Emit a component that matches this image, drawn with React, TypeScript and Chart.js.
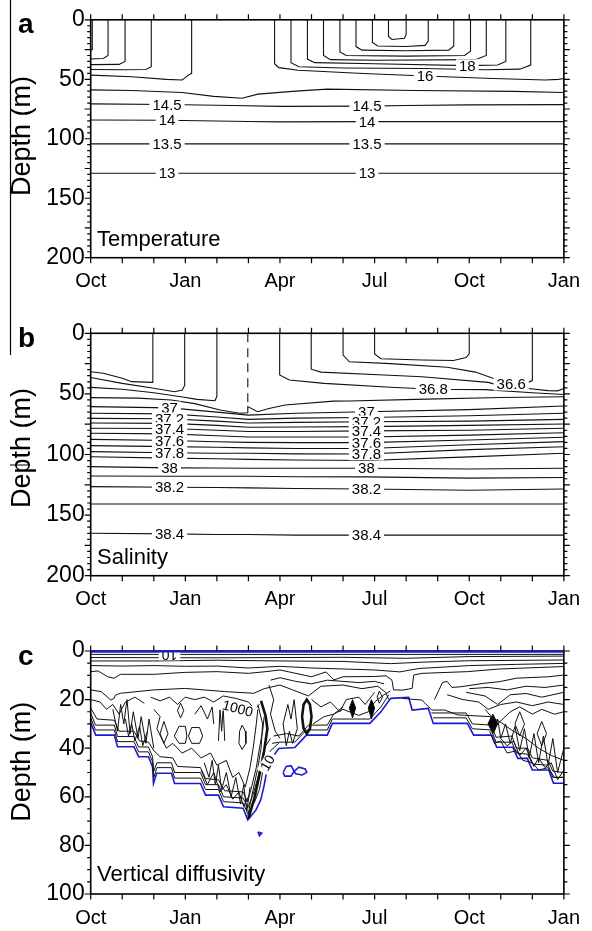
import { useEffect, useRef } from 'react';
import { Chart, registerables } from 'chart.js';
Chart.register(...registerables);

const FONT = '"Liberation Sans", Arial, Helvetica, sans-serif';
const xTickLabels = ['Oct', 'Jan', 'Apr', 'Jul', 'Oct', 'Jan'];

// ---------------- Panel a: temperature contours (x = months since Oct, y = depth m)
const T_edge = [[0, 25.5], [0.05, 25], [0.05, 0]];
const T_w1 = [[0, 33], [0.4, 32.5], [0.55, 30], [0.55, 0]];
const T_w2 = [[0, 37.7], [0.9, 37.5], [1.09, 35], [1.09, 0]];
const T_w3 = [[0, 41.8], [1.0, 42], [1.75, 41.8], [1.92, 39.5], [1.92, 0]];
const T_16a = [[0, 46.5], [1.3, 47.9], [2.4, 50.1], [2.9, 50.6], [3.1, 46.5], [3.2, 45], [3.2, 0]];
const T_16b = [[5.83, 0], [5.83, 36.9], [5.96, 40.2], [6.58, 42.4], [8.64, 45.1], [10.6, 47.3], [12.76, 49.3], [14.41, 50.6], [14.83, 50.1], [15, 49.3]];
const T_U1 = [[6.35, 0], [6.35, 36], [6.6, 39.5], [8, 40.5], [10.5, 41], [12.5, 42], [13.6, 41.5], [13.95, 38], [13.95, 0]];
const T_U2 = [[6.87, 0], [6.87, 33], [7.1, 36], [9, 37], [11.94, 38.5], [12.9, 38], [13.16, 35], [13.16, 0]];
const T_U3 = [[7.38, 0], [7.38, 30], [7.6, 33.5], [9, 34], [12.2, 33.5], [12.54, 30], [12.54, 0]];
const T_U4 = [[7.9, 0], [7.9, 27], [8.1, 30], [10, 30.5], [11.85, 30], [12.04, 26.5], [12.04, 0]];
const T_U5 = [[8.41, 0], [8.41, 22.5], [8.6, 25.5], [10, 26], [11.35, 25.5], [11.51, 22], [11.51, 0]];
const T_U6 = [[8.93, 0], [8.93, 19], [9.1, 22], [10, 22.5], [10.6, 21.5], [10.7, 18], [10.7, 0]];
const T_U7 = [[9.44, 0], [9.44, 14], [9.55, 16.5], [9.95, 15.5], [10.0, 12], [10.0, 0]];
const T_15 = [[0, 58.9], [1.3, 59.4], [2.9, 61.1], [3.9, 64.4], [4.8, 66], [5.3, 62.5], [6.5, 60], [7.5, 58.3], [10.3, 59.4], [13.4, 60.2], [15, 61.1]];
const T_145 = [[0, 70.7], [2.42, 71.2], [4.5, 72], [6, 72.8], [8.76, 72.6], [10, 72], [12, 71.5], [15, 71.3]];
const T_14 = [[0, 84.2], [2.42, 84.5], [5, 85.5], [6, 85.8], [8.76, 85.6], [15, 85.6]];
const T_135 = [[0, 104.3], [15, 104.3]];
const T_13 = [[0, 129], [15, 129]];
const tempLines = [T_edge, T_w1, T_w2, T_w3, T_16a, T_16b, T_U1, T_U2, T_U3, T_U4, T_U5, T_U6, T_U7, T_15, T_145, T_14, T_135, T_13];
const tempLabels = [
  { x: 2.42, y: 71.2, t: '14.5' }, { x: 8.76, y: 72.6, t: '14.5' },
  { x: 2.42, y: 84.5, t: '14' }, { x: 8.76, y: 85.6, t: '14' },
  { x: 2.42, y: 104.3, t: '13.5' }, { x: 8.76, y: 104.3, t: '13.5' },
  { x: 2.42, y: 129, t: '13' }, { x: 8.76, y: 129, t: '13' },
  { x: 10.6, y: 47.3, t: '16' }, { x: 11.94, y: 38.5, t: '18' },
];

// ---------------- Panel b: salinity contours
const S_1 = [[0, 31.7], [0.4, 33], [1.0, 37.1], [1.3, 39.9], [1.95, 40.5], [1.97, 38], [1.97, 0]];
const S_2 = [[0, 36.5], [1.0, 41.3], [2.0, 45.4], [2.66, 48.2], [2.9, 46.8], [2.98, 43], [2.98, 0]];
const S_3 = [[0, 44.6], [1.0, 46.2], [2.0, 49], [2.86, 52.3], [3.37, 54.5], [3.94, 55.6], [4.0, 52], [4.0, 0]];
const S_4 = [[0, 53.1], [1.5, 53.5], [2.55, 55], [3.3, 58], [4.1, 63.3], [4.72, 66], [4.98, 65.5], [4.98, 60.5], [5.29, 64.7], [5.65, 62], [6.16, 59.2], [7.7, 56], [8.2, 55.8], [10.3, 54.5], [13, 53], [15, 52.3]];
const S_dash = [[4.98, 0], [4.98, 60.5]];
const S_368 = [[5.99, 0], [5.99, 34.4], [6.3, 38.5], [7.4, 41.3], [9.5, 44.5], [10.86, 46.2], [12.5, 46.5], [14, 49], [15, 50.5]];
const S_3b = [[6.99, 0], [6.99, 29.6], [7.3, 32], [9.3, 34.4], [10.5, 35.8], [12.6, 40.5], [13.1, 44], [13.8, 45.4], [14.5, 47.3], [14.8, 47.5], [15, 45.5]];
const S_366 = [[8.0, 0], [8.0, 18], [8.2, 23.5], [9.5, 25], [11.3, 28], [12.2, 32], [12.9, 38.5], [13.33, 42], [13.8, 41.3], [14.0, 39], [14.0, 0]];
const S_in = [[9.0, 0], [9.0, 17], [9.2, 21], [10.5, 22], [11.5, 22.5], [11.9, 20], [12.0, 17], [12.0, 0]];
const salX = [0, 2.5, 4.0, 5.0, 6.5, 8.74, 12, 15];
const S_370 = [60.5, 61.5, 65, 67.5, 66, 64.7, 63, 60];
const S_371 = [66, 66.5, 69, 71, 70, 69.5, 68, 66];
const S_372 = [70.2, 70.5, 72.5, 74, 73.5, 73, 72.5, 71];
const S_373 = [74, 74.3, 76, 77.5, 77.3, 77, 76, 74.8];
const S_374 = [78.4, 78.5, 80, 81, 81, 80.5, 80, 78.4];
const S_375 = [82.5, 83, 84.5, 85.5, 85.5, 85.5, 84, 82];
const S_376 = [87.5, 88.5, 89.5, 90, 90.2, 90.2, 88, 85.8];
const S_377 = [92.7, 93.5, 94, 94.5, 95, 95, 92, 89.4];
const S_378 = [97.6, 98.5, 99, 99, 99.5, 99.6, 96, 93.6];
const S_379 = [101.8, 103, 103.5, 104, 104.5, 105, 102, 99];
const S_380 = [110, 111, 111.2, 111.4, 111.4, 111.4, 112, 111.4];
const S_381 = [117.7, 118, 118, 118, 118.3, 118.5, 119.5, 119];
const S_382 = [126.5, 127, 127.2, 127.5, 128, 128.5, 129.5, 128.5];
const S_383 = [140.8, 140.8, 140.8, 140.8, 140.8, 140.8, 140.8, 140.8];
const S_384 = [165, 165.5, 166, 166, 166.5, 166.5, 166.5, 166.5];
const salLevels = [S_370, S_371, S_372, S_373, S_374, S_375, S_376, S_377, S_378, S_379, S_380, S_381, S_382, S_383, S_384];
const salTop = [S_1, S_2, S_3, S_4, S_368, S_3b, S_366, S_in];
const salLabels = [
  { x: 2.5, y: 61.5, t: '37' }, { x: 8.74, y: 64.7, t: '37' },
  { x: 2.5, y: 70.5, t: '37.2' }, { x: 8.74, y: 73, t: '37.2' },
  { x: 2.5, y: 78.5, t: '37.4' }, { x: 8.74, y: 80.5, t: '37.4' },
  { x: 2.5, y: 88.5, t: '37.6' }, { x: 8.74, y: 90.2, t: '37.6' },
  { x: 2.5, y: 98.5, t: '37.8' }, { x: 8.74, y: 99.6, t: '37.8' },
  { x: 2.5, y: 111, t: '38' }, { x: 8.74, y: 111.4, t: '38' },
  { x: 2.5, y: 127, t: '38.2' }, { x: 8.74, y: 128.5, t: '38.2' },
  { x: 2.5, y: 165.5, t: '38.4' }, { x: 8.74, y: 166.5, t: '38.4' },
  { x: 10.86, y: 46.2, t: '36.8' }, { x: 13.33, y: 42, t: '36.6' },
];

// ---------------- Panel c: vertical diffusivity contours
const K_mld = [[0, 29.5], [0.16, 34.6], [0.75, 34.6], [0.85, 39.4], [1.37, 39.4], [1.52, 43.5], [1.83, 43.5], [1.96, 47.6], [1.99, 54.5], [2.09, 50.3], [2.56, 50.3], [2.66, 54.5], [3.48, 54.5], [3.64, 59.3], [4.05, 59.3], [4.21, 64.1], [4.83, 64.7], [4.98, 69.5], [5.24, 65.4], [5.39, 61.3], [5.49, 55.8], [5.57, 50.3], [5.7, 44.9], [5.96, 40.1], [6.47, 39.7], [6.84, 34.6], [7.5, 34.6], [7.66, 29.8], [8.85, 29.8], [9.2, 25], [9.51, 19.5], [10.08, 19.1], [10.19, 24.3], [10.7, 23.6], [10.86, 29.8], [11.94, 29.8], [12.14, 34.6], [12.71, 34.6], [12.87, 39.6], [13.38, 39.6], [13.54, 44.2], [13.84, 44.2], [14.0, 49], [14.52, 49], [14.67, 54.4], [15, 54.4]];
const K_top = [[0, 0.3], [15, 0.3]];
const K_b1 = [[6.1, 50], [6.2, 47.5], [6.35, 47.2], [6.45, 49.5], [6.35, 51.5], [6.15, 51.5], [6.1, 50]];
const K_b2 = [[6.45, 49.5], [6.6, 47.8], [6.8, 48.5], [6.85, 50], [6.7, 51], [6.5, 50.5], [6.45, 49.5]];
const K_b3 = [[5.3, 74.5], [5.42, 75], [5.35, 76], [5.3, 74.5]];
const K_s1 = [[0, 1.4], [15, 1.4]];
const K_s2 = [[0, 2.7], [4, 2.8], [8, 2.6], [10, 3.0], [12, 2.3], [15, 2.1]];
const K_s3 = [[0, 4.1], [2, 4.1], [4, 3.8], [6, 4.1], [8, 4.3], [9.5, 5.2], [10.5, 4.6], [12, 4.0], [15, 3.7]];
const K_s4 = [[0, 6.0], [1, 6.2], [2, 6.0], [3, 6.3], [4, 6.2], [5, 7.0], [6, 6.3], [7, 7.0], [8, 7.4], [9, 7.8], [9.8, 8.6], [10.4, 7.2], [12, 6.0], [13.5, 5.5], [15, 5.1]];
const K_w1 = [[0, 8.5], [0.23, 8.2], [0.54, 10.6], [0.74, 11.2], [0.95, 9.6], [2.0, 9.6], [3.0, 8.8], [4.0, 8.5], [5.0, 9.2], [5.55, 8.5], [6.0, 7.8], [7.0, 10.6], [7.46, 8.6], [7.71, 11.9], [8.0, 10.6], [9.0, 10.5], [9.36, 10.2], [9.55, 12], [9.6, 16], [9.88, 16.1], [10.19, 15.4], [10.24, 9.9], [10.5, 9.2], [11.94, 8.5], [12.97, 7.4], [15, 6.4]];
const K_w2 = [[0, 16], [0.33, 16.7], [0.64, 20.2], [0.74, 19.5], [0.79, 18.1], [0.95, 17.4], [2.0, 16.0], [3.0, 15.4], [4.25, 16.7], [5.17, 17.4], [5.5, 15.5], [6.0, 14], [6.4, 16], [6.9, 18.5], [7.3, 14.5], [8.0, 14], [8.6, 15.5], [9.1, 14.5], [9.35, 17], [9.45, 20]];
const K_r1 = [[9.88, 19.5], [10.5, 20.2], [10.81, 24.3], [11.22, 24.3], [11.63, 26.3], [12.66, 27], [12.97, 29.1], [13.4, 33], [13.8, 36], [14.2, 40], [14.6, 43], [15, 45]];
const K_r2 = [[10.9, 20], [11.15, 13], [11.3, 12.5], [11.45, 15], [11.74, 14.7], [12.46, 13.3], [12.97, 12.6], [13.49, 11.2], [14.52, 10.6], [15, 9.9]];
const K_r3 = [[11.9, 17], [12.5, 18.5], [12.9, 22], [13.3, 18], [13.8, 17.5], [14.3, 19], [15, 17]];
const K_r4 = [[12.5, 24], [12.9, 30], [13.3, 25], [13.6, 23], [14.0, 26], [14.3, 24], [14.7, 26], [15, 25]];
const K_r5 = [[11.3, 18], [11.8, 20], [12.3, 21], [12.6, 24], [13.0, 22], [13.5, 21], [14.0, 22.5], [14.5, 21], [15, 22]];
const K_r6 = [[12.0, 15.5], [12.6, 15], [13.2, 16], [13.8, 14.5], [14.4, 15], [15, 14]];
const K_re1 = [[10.86, 27.5], [11.9, 27.5], [12.1, 32], [12.7, 32.5], [12.85, 37.5], [13.35, 37.5], [13.5, 42], [13.85, 42.5], [14.0, 46.5], [14.5, 47], [14.65, 52], [15, 52]];
const K_re2 = [[10.8, 25.5], [11.9, 25.5], [12.1, 30], [12.7, 30.5], [12.85, 35.5], [13.35, 35], [13.5, 40], [13.85, 40], [14.0, 44], [14.5, 45], [14.65, 49.5], [15, 50]];
const K_rt1 = [[12.6, 30], [12.7, 27], [12.8, 33], [12.9, 28], [13.0, 36], [13.15, 30], [13.3, 38], [13.45, 31], [13.6, 41], [13.75, 32], [13.9, 44], [14.05, 34], [14.2, 46], [14.35, 35], [14.5, 47], [14.65, 36], [14.8, 50], [15, 40]];
const K_rt2 = [[12.65, 33], [12.8, 38], [13.0, 37], [13.2, 42], [13.5, 41], [13.7, 45], [14.0, 46], [14.2, 49], [14.5, 48], [14.7, 52], [15, 52]];
const K_rt3 = [[13.0, 36], [13.2, 39], [13.4, 37], [13.6, 43], [13.8, 40], [14.05, 47.5], [14.2, 44], [14.4, 48], [14.6, 46], [14.8, 53], [15, 49]];
const K_rd1 = [[13.45, 30], [13.6, 25], [13.75, 30], [13.6, 35], [13.45, 30]];
const K_rd2 = [[14.15, 34], [14.3, 29], [14.45, 34], [14.3, 39], [14.15, 34]];
const K_rd3 = [[12.6, 30], [12.75, 26], [12.9, 30], [12.75, 34], [12.6, 30]];
const K_le1 = [[0, 27.5], [0.15, 32.5], [0.75, 32.5], [0.85, 37.3], [1.37, 37.3], [1.52, 41.5], [1.83, 41.5], [1.96, 45.5], [2.0, 52], [2.1, 48], [2.56, 48], [2.66, 52.3], [3.48, 52.3], [3.64, 57], [4.05, 57], [4.21, 62], [4.83, 62.5], [4.98, 67], [5.2, 62], [5.35, 57], [5.45, 50], [5.55, 45], [5.7, 41], [5.96, 38]];
const K_le2 = [[0, 25.5], [0.15, 30.5], [0.75, 30.5], [0.85, 35.2], [1.37, 35.2], [1.52, 39.5], [1.83, 39.5], [1.96, 43.5], [2.0, 49.5], [2.1, 46], [2.56, 46], [2.66, 50], [3.48, 50], [3.64, 55], [4.05, 55], [4.21, 60], [4.83, 60.5], [4.98, 64.5], [5.15, 59], [5.3, 52], [5.4, 46], [5.5, 40], [5.7, 36]];
const K_le3 = [[0, 23.5], [0.2, 28], [0.75, 28.5], [0.9, 33], [1.37, 33], [1.55, 37], [1.83, 37.5], [2.0, 41], [2.2, 43.5], [2.6, 44], [2.75, 47.5], [3.48, 48], [3.64, 52.5], [4.05, 53], [4.25, 57.5], [4.83, 58], [4.97, 62], [5.1, 56], [5.25, 48], [5.35, 40], [5.45, 33], [5.5, 27]];
const K_lt1 = [[0.7, 24], [0.85, 33], [0.95, 22], [1.05, 30], [1.15, 20], [1.25, 34], [1.35, 25], [1.5, 36], [1.6, 27], [1.75, 38], [1.85, 28], [2.0, 40]];
const K_lt2 = [[1.1, 28], [1.2, 35], [1.3, 30], [1.4, 37], [1.55, 31], [1.65, 39], [1.8, 33]];
const K_lt3 = [[2.65, 35], [2.8, 31], [3.0, 31], [3.05, 35], [3.0, 38], [2.8, 38], [2.65, 35]];
const K_lt4 = [[3.1, 35], [3.2, 31.5], [3.45, 31.5], [3.55, 35], [3.45, 38], [3.2, 38], [3.1, 35]];
const K_lt5 = [[2.2, 34], [2.32, 29], [2.45, 34], [2.32, 38], [2.2, 34]];
const K_lt6 = [[2.75, 24.5], [2.85, 21.5], [2.95, 24.5], [2.85, 27.5], [2.75, 24.5]];
const K_lt7 = [[4.05, 37], [4.1, 24], [4.15, 33], [4.2, 23.5], [4.25, 37]];
const K_lt8 = [[4.7, 38], [4.72, 33], [4.8, 30.5], [4.9, 33], [4.92, 38], [4.8, 40.5], [4.7, 38]];
const K_l9 = [[1.9, 19], [2.2, 20.5], [2.5, 19], [2.75, 22], [3.0, 19], [3.3, 20], [3.6, 19], [3.9, 21], [4.2, 18.5], [4.6, 19.5], [5.0, 21], [5.2, 24], [5.35, 22]];
const K_l10 = [[2.0, 24], [2.2, 27], [2.1, 32], [2.4, 40], [2.6, 38], [2.9, 42], [3.2, 40], [3.5, 44], [3.8, 42], [4.0, 47], [4.3, 45], [4.5, 52], [4.7, 50], [4.9, 56], [5.05, 48], [5.15, 40], [5.25, 30], [5.3, 24]];
const K_l11 = [[3.3, 26], [3.5, 22.5], [3.7, 28], [3.85, 23], [3.9, 30]];
const K_l12 = [[3.6, 46], [3.75, 52], [3.85, 45], [3.95, 55], [4.05, 47], [4.15, 57], [4.3, 50], [4.45, 60], [4.6, 52], [4.75, 63], [4.85, 55], [4.95, 66], [5.05, 56]];
const K_l13 = [[3.5, 49], [3.7, 55], [3.9, 50], [4.1, 58], [4.3, 55], [4.5, 61], [4.7, 58], [4.85, 64], [5.0, 60]];
const K_l14 = [[5.4, 20.5], [5.55, 27], [5.6, 32], [5.5, 41], [5.4, 48], [5.2, 60], [5.0, 69]];
const K_l15 = [[5.3, 22], [5.45, 30], [5.4, 40], [5.3, 48], [5.1, 60], [4.98, 68]];
const K_l16 = [[0, 20], [0.3, 21], [0.5, 24], [0.7, 22], [0.9, 26], [1.1, 21], [1.4, 19], [1.7, 21.5]];
const K_m1 = [[6.7, 27], [6.75, 22], [6.85, 20], [6.95, 22], [7.0, 27], [6.95, 32], [6.85, 34], [6.75, 32], [6.7, 27]];
const K_m2 = [[6.1, 30], [6.25, 22], [6.35, 28], [6.45, 20], [6.55, 32], [6.4, 38], [6.3, 33], [6.2, 39], [6.1, 30]];
const K_m3 = [[8.2, 23.5], [8.3, 20], [8.4, 23.5], [8.3, 27.5], [8.2, 23.5]];
const K_m4 = [[8.8, 23.5], [8.9, 20], [9.0, 23.5], [8.9, 28], [8.8, 23.5]];
const K_m5 = [[9.08, 19], [9.15, 16.5], [9.25, 19], [9.15, 21.5], [9.08, 19]];
const K_me1 = [[5.75, 38], [6.0, 37.5], [6.47, 37.5], [6.84, 32.5], [7.5, 32.5], [7.66, 28], [8.2, 28], [8.85, 28], [9.2, 23], [9.45, 18]];
const K_me2 = [[5.8, 35], [6.2, 34], [6.6, 35], [6.9, 30.5], [7.5, 30.5], [7.7, 26], [8.0, 24], [8.5, 26.5], [8.8, 25], [9.0, 21], [9.3, 18], [9.5, 16.5]];
const K_m6 = [[5.65, 14], [5.8, 20], [5.7, 26], [5.85, 33], [6.0, 36]];
const K_m7 = [[7.0, 20], [7.3, 23], [7.6, 21], [7.9, 25], [8.1, 20], [8.5, 19], [8.7, 22], [9.0, 17]];
const K_m8 = [[7.05, 30], [7.4, 27], [7.7, 26], [8.0, 23]];
const K_m9 = [[5.7, 12], [6.0, 11], [6.5, 12.5], [7.0, 13.5], [7.5, 12], [8.0, 12.5], [8.5, 13], [9.0, 12.5], [9.3, 13.5]];
const kThin = [K_s1, K_s2, K_s3, K_s4, K_w1, K_w2, K_r1, K_r2, K_r3, K_r4, K_r5, K_r6, K_re1, K_re2, K_rt1, K_rt2, K_rt3, K_rd1, K_rd2, K_le1, K_le2, K_le3, K_lt1, K_lt2, K_lt3, K_lt4, K_lt5, K_lt6, K_lt7, K_lt8, K_l9, K_l10, K_l11, K_l12, K_l13, K_l15, K_l16, K_m2, K_m5, K_me1, K_me2, K_m6, K_m7, K_m8, K_m9];
const kThick = [K_l14, K_m1];
const kFilled = [K_rd3, K_m3, K_m4];
const kBlue = [K_mld, K_top, K_b1, K_b2, K_b3];
const kLabels = [
  { x: 2.5, y: 1.4, t: '10', r: 180 },
  { x: 4.66, y: 23.6, t: '1000', r: 15 },
  { x: 5.6, y: 46, t: '10', r: -60 },
];

const pts = (p: number[][]) => p.map(([x, y]) => ({ x, y }));
const lineDs = (p: number[][], color: string, width: number, extra: any = {}) => ({
  data: pts(p), showLine: true, pointRadius: 0, borderColor: color, borderWidth: width, fill: false, ...extra,
});

type Lbl = { x: number; y: number; t: string; r?: number };

function decor(cfg: {
  letter: string; letterY: number; name: string; nameY: number; depthY: number;
  major: number; minor: number; labels: Lbl[]; labelFont: number; topColor?: string;
  stray?: (ctx: CanvasRenderingContext2D) => void;
}) {
  return {
    id: 'decor',
    afterDatasetsDraw(chart: any) {
      const { ctx, chartArea: ca, scales } = chart;
      ctx.save();
      ctx.beginPath();
      ctx.rect(ca.left, ca.top, ca.right - ca.left, ca.bottom - ca.top);
      ctx.clip();
      ctx.font = `${cfg.labelFont}px ${FONT}`;
      ctx.textAlign = 'center';
      ctx.textBaseline = 'middle';
      for (const l of cfg.labels) {
        const px = scales.x.getPixelForValue(l.x);
        const py = scales.y.getPixelForValue(l.y);
        ctx.save();
        ctx.translate(px, py);
        ctx.rotate(((l.r || 0) * Math.PI) / 180);
        const w = ctx.measureText(l.t).width + 6;
        ctx.fillStyle = '#fff';
        ctx.fillRect(-w / 2, -cfg.labelFont * 0.42, w, cfg.labelFont * 0.84);
        ctx.fillStyle = '#000';
        ctx.fillText(l.t, 0, 1);
        ctx.restore();
      }
      ctx.restore();
    },
    afterDraw(chart: any) {
      const { ctx, chartArea: ca, scales } = chart;
      const xs = scales.x, ys = scales.y;
      ctx.save();
      ctx.strokeStyle = '#000';
      ctx.lineWidth = 1.6;
      ctx.strokeRect(ca.left, ca.top, ca.right - ca.left, ca.bottom - ca.top);
      if (cfg.topColor) {
        ctx.strokeStyle = cfg.topColor;
        ctx.lineWidth = 2;
        ctx.beginPath();
        ctx.moveTo(ca.left, ca.top + 0.5);
        ctx.lineTo(ca.right, ca.top + 0.5);
        ctx.stroke();
        ctx.strokeStyle = '#000';
      }
      ctx.lineWidth = 1.2;
      ctx.beginPath();
      for (let m = 0; m <= 15; m++) {
        const px = xs.getPixelForValue(m);
        ctx.moveTo(px, ca.bottom); ctx.lineTo(px, ca.bottom + 5.5);
        ctx.moveTo(px, ca.top); ctx.lineTo(px, ca.top - 5.5);
      }
      for (let d = ys.min; d <= ys.max + 0.01; d += cfg.minor) {
        const py = ys.getPixelForValue(d);
        const len = Math.abs(d % cfg.major) < 0.01 ? 6 : 3.5;
        ctx.moveTo(ca.left, py); ctx.lineTo(ca.left - len, py);
        ctx.moveTo(ca.right, py); ctx.lineTo(ca.right + len, py);
      }
      ctx.stroke();
      ctx.fillStyle = '#000';
      ctx.font = `bold 28px ${FONT}`;
      ctx.textAlign = 'left';
      ctx.textBaseline = 'alphabetic';
      ctx.fillText(cfg.letter, 18, cfg.letterY);
      ctx.font = `22px ${FONT}`;
      ctx.fillText(cfg.name, 97, cfg.nameY);
      ctx.save();
      ctx.translate(30, cfg.depthY);
      ctx.rotate(-Math.PI / 2);
      ctx.font = `27px ${FONT}`;
      ctx.textAlign = 'center';
      ctx.fillText('Depth (m)', 0, 0);
      ctx.restore();
      if (cfg.stray) cfg.stray(ctx);
      ctx.restore();
    },
  };
}

function buildConfig(p: {
  height: number; plotTop: number; plotBottom: number; yMax: number; yStep: number;
  datasets: any[]; plugin: any;
}) {
  return {
    type: 'scatter',
    data: { datasets: p.datasets },
    options: {
      responsive: false,
      animation: false,
      events: [],
      layout: { padding: { top: p.plotTop, right: 592 - 575.7, left: 0, bottom: 0 } },
      plugins: { legend: { display: false }, tooltip: { enabled: false } },
      scales: {
        x: {
          type: 'linear', min: 0, max: 15, position: 'bottom',
          afterFit: (s: any) => { s.height = p.height - p.plotBottom; },
          grid: { display: false, drawTicks: false }, border: { display: false },
          ticks: {
            stepSize: 1, autoSkip: false, maxRotation: 0, minRotation: 0, padding: 12, color: '#000',
            font: { size: 20, family: FONT },
            callback: (v: number) => (Math.abs(v % 3) < 0.001 ? xTickLabels[Math.round(v / 3)] : ''),
          },
        },
        y: {
          type: 'linear', reverse: true, min: 0, max: p.yMax,
          afterFit: (s: any) => { s.width = 90.7; },
          grid: { display: false, drawTicks: false }, border: { display: false },
          ticks: { stepSize: p.yStep, padding: 6, color: '#000', font: { size: 23, family: FONT } },
        },
      },
    },
    plugins: [p.plugin],
  };
}

function Panel({ top, height, make }: { top: number; height: number; make: () => any }) {
  const ref = useRef<HTMLCanvasElement>(null);
  useEffect(() => {
    const chart = new Chart(ref.current as HTMLCanvasElement, make());
    return () => chart.destroy();
  }, []);
  return (
    <canvas ref={ref} width={592} height={height}
      style={{ position: 'absolute', left: 0, top, width: 592, height }} />
  );
}

const LC = '#111';

const makeA = () => buildConfig({
  height: 300, plotTop: 15.3, plotBottom: 257.7, yMax: 200, yStep: 25,
  datasets: tempLines.map((l) => lineDs(l, LC, 1.1)),
  plugin: decor({
    letter: 'a', letterY: 33, name: 'Temperature', nameY: 245.8, depthY: 136,
    major: 25, minor: 5, labels: tempLabels, labelFont: 15,
    stray: (ctx) => { ctx.lineWidth = 1.2; ctx.beginPath(); ctx.moveTo(10.5, 0); ctx.lineTo(10.5, 300); ctx.stroke(); },
  }),
});

const makeB = () => buildConfig({
  height: 320, plotTop: 33.3, plotBottom: 275.7, yMax: 200, yStep: 25,
  datasets: [
    ...salTop.map((l) => lineDs(l, LC, 1.1)),
    lineDs(S_dash, LC, 1.1, { borderDash: [9, 6] }),
    ...salLevels.map((lv) => lineDs(salX.map((x, i) => [x, lv[i]]), LC, 1.1)),
  ],
  plugin: decor({
    letter: 'b', letterY: 46.7, name: 'Salinity', nameY: 263.7, depthY: 148,
    major: 25, minor: 5, labels: salLabels, labelFont: 15,
    stray: (ctx) => {
      ctx.lineWidth = 1.2; ctx.beginPath();
      ctx.moveTo(10.5, 0); ctx.lineTo(10.5, 55);
      ctx.moveTo(10, 165); ctx.lineTo(30, 165);
      ctx.stroke();
    },
  }),
});

const makeC = () => buildConfig({
  height: 311, plotTop: 31, plotBottom: 274, yMax: 100, yStep: 20,
  datasets: [
    ...kThin.map((l) => lineDs(l, LC, 1)),
    ...kThick.map((l) => lineDs(l, LC, 2.6)),
    ...kFilled.map((l) => lineDs(l, LC, 1, { fill: 'shape', backgroundColor: '#000' })),
    ...kBlue.map((l) => lineDs(l, '#1a1ad6', 1.6)),
  ],
  plugin: decor({
    letter: 'c', letterY: 45, name: 'Vertical diffusivity', nameY: 260.8, depthY: 141.7,
    major: 20, minor: 5, labels: kLabels, labelFont: 14, topColor: '#1a1ad6',
  }),
});

export default function App() {
  return (
    <div style={{ position: 'absolute', left: 0, top: 0, width: 592, height: 931, background: '#fff', overflow: 'hidden' }}>
      <Panel top={0} height={300} make={makeA} />
      <Panel top={300} height={320} make={makeB} />
      <Panel top={620} height={311} make={makeC} />
    </div>
  );
}
